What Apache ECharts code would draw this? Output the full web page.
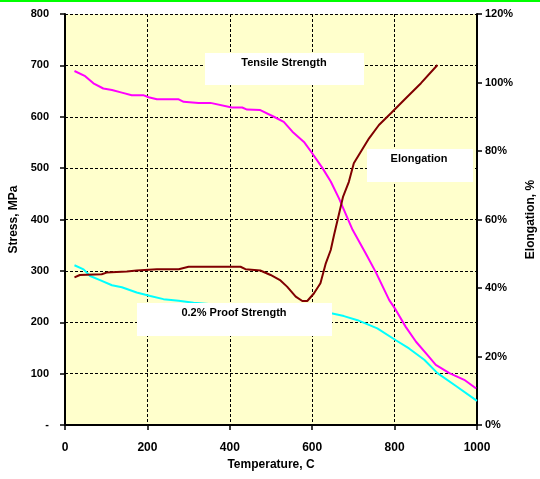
<!DOCTYPE html>
<html>
<head>
<meta charset="utf-8">
<script src="https://cdn.jsdelivr.net/npm/echarts@6/dist/echarts.min.js"></script>
<style>
  html, body { margin: 0; padding: 0; background: #ffffff; }
  #main { width: 540px; height: 479px; }
</style>
</head>
<body>
<div id="main"></div>
<script>
  // Tensile strength, MPa  [temperature C, stress]
  var tensileStrength = [
    [23, 689], [49, 679], [69, 665], [93, 655], [114, 652], [138, 647], [162, 642],
    [190, 642], [203, 638], [223, 634], [276, 634], [288, 629], [324, 627], [353, 627],
    [405, 618], [430, 618], [442, 614], [474, 613], [507, 600], [531, 590], [552, 571],
    [580, 551], [600, 529], [625, 500], [645, 474], [665, 441], [698, 380], [730, 334],
    [754, 298], [787, 243], [803, 224], [827, 191], [852, 162], [880, 136], [900, 117],
    [933, 101], [969, 88], [998, 71]
  ];

  // 0.2% proof strength, MPa
  var proofStrength = [
    [23, 311], [45, 303], [61, 290], [85, 282], [114, 272], [138, 268], [174, 258],
    [207, 251], [239, 245], [276, 242], [312, 238], [400, 232], [500, 226], [600, 221],
    [649, 217], [677, 212], [710, 204], [758, 188], [803, 165], [835, 149], [872, 127],
    [904, 101], [949, 76], [1000, 47]
  ];

  // Elongation, %
  var elongation = [
    [23, 43.1], [36, 43.8], [89, 44.0], [101, 44.5], [150, 44.8], [174, 45.1],
    [223, 45.5], [276, 45.5], [300, 46.2], [426, 46.2], [438, 45.5], [474, 45.1],
    [499, 43.8], [523, 42.2], [539, 40.4], [560, 37.5], [576, 36.2], [588, 36.2],
    [604, 38.4], [620, 41.4], [633, 47.2], [645, 51.1], [653, 55.5], [675, 66.7],
    [689, 71.0], [701, 76.4], [718, 79.8], [738, 83.7], [762, 87.6], [791, 91.0],
    [823, 94.9], [864, 99.8], [904, 105.1]
  ];

  var fontFamily = '"Liberation Sans", Arial, sans-serif';
  var axisLine = { lineStyle: { color: "#000000", width: 2 } };
  var axisTick = { length: 5, lineStyle: { color: "#000000", width: 1.5 } };
  var dashed = { color: "#000000", type: [3, 2], width: 1 };

  // annotation box with label, drawn over the grid and lines
  function labelBox(x, y, w, h, text, tx, ty) {
    return [
      {
        type: "rect", z: 100, zlevel: 1,
        shape: { x: x, y: y, width: w, height: h },
        style: { fill: "#ffffff" }
      },
      {
        type: "text", z: 101, zlevel: 1, x: tx, y: ty,
        style: {
          text: text, fill: "#000000", font: "bold 11px " + fontFamily,
          align: "center", verticalAlign: "middle"
        }
      }
    ];
  }

  var chart = echarts.init(document.getElementById("main"));

  chart.setOption({
    backgroundColor: "#ffffff",
    animation: false,
    textStyle: { fontFamily: fontFamily },
    grid: {
      left: 65, right: 63, top: 14, bottom: 54,
      outerBoundsMode: "none",
      containLabel: false,
      show: true, backgroundColor: "#FFFFCC", borderWidth: 0
    },
    graphic: [
      { type: "rect", shape: { x: 0, y: 0, width: 540, height: 2 }, style: { fill: "#00FF00" } }
    ]
      .concat(labelBox(205, 53, 159, 32, "Tensile Strength", 284, 63))
      .concat(labelBox(367, 149, 106, 33, "Elongation", 419, 159))
      .concat(labelBox(137, 303, 195, 33, "0.2% Proof Strength", 234, 313)),
    xAxis: {
      type: "value",
      min: 0, max: 1000, interval: 200,
      name: "Temperature, C",
      nameLocation: "middle",
      nameGap: 33,
      nameTextStyle: { fontWeight: "bold", fontSize: 12, color: "#000000" },
      axisLine: axisLine,
      axisTick: axisTick,
      axisLabel: {
        fontWeight: "bold", fontSize: 12, color: "#000000", margin: 17,
        formatter: function (v) { return String(v); }
      },
      splitLine: { show: true, lineStyle: dashed }
    },
    yAxis: [
      {
        type: "value",
        min: 0, max: 800, interval: 100,
        name: "Stress, MPa",
        nameLocation: "middle",
        nameGap: 44,
        nameTextStyle: { fontWeight: "bold", fontSize: 12, color: "#000000" },
        axisLine: axisLine,
        axisTick: axisTick,
        axisLabel: {
          fontWeight: "bold", fontSize: 11, color: "#000000", margin: 16,
          formatter: function (v) { return v === 0 ? "-" : String(v); }
        },
        splitLine: { show: true, lineStyle: dashed }
      },
      {
        type: "value",
        position: "right",
        min: 0, max: 120, interval: 20,
        name: "Elongation, %",
        nameLocation: "middle",
        nameGap: 48,
        nameRotate: 90,
        nameTextStyle: { fontWeight: "bold", fontSize: 12, color: "#000000" },
        axisLine: axisLine,
        axisTick: axisTick,
        axisLabel: { fontWeight: "bold", fontSize: 11, color: "#000000", margin: 8, formatter: "{value}%" },
        splitLine: { show: false }
      }
    ],
    series: [
      {
        name: "Tensile Strength", type: "line", data: tensileStrength,
        showSymbol: false, lineStyle: { color: "#FF00FF", width: 2 }, z: 3
      },
      {
        name: "0.2% Proof Strength", type: "line", data: proofStrength,
        showSymbol: false, lineStyle: { color: "#00FFFF", width: 2 }, z: 3
      },
      {
        name: "Elongation", type: "line", yAxisIndex: 1, data: elongation,
        showSymbol: false, lineStyle: { color: "#800000", width: 2 }, z: 4
      }
    ]
  });
</script>
</body>
</html>
